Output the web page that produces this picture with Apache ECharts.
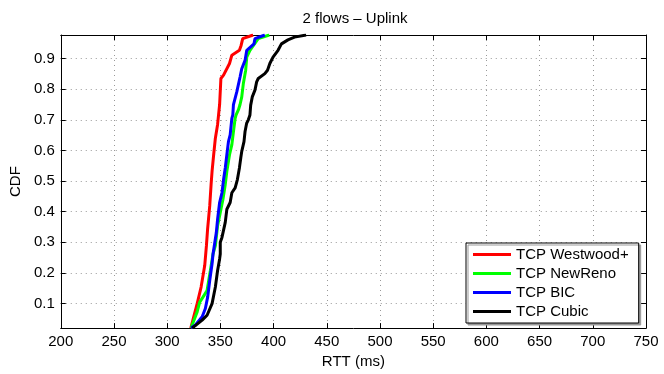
<!DOCTYPE html>
<html>
<head>
<meta charset="utf-8">
<script src="https://cdn.jsdelivr.net/npm/echarts@6/dist/echarts.min.js"></script>
<style>
	html, body { margin: 0; padding: 0; background: #fff; }
	#main { width: 664px; height: 374px; }
</style>
</head>
<body>
<div id="main"></div>
<script>
// RTT samples (ms) and matching CDF values
var westwoodRtt = [322.2, 328.2, 331.9, 335.3, 335.9, 336.9, 338, 340, 341.3, 342.2, 343.7, 345.3, 347.4, 349.3, 350.5, 353, 358.6, 360.8, 367.9, 369.5, 371, 380.8];
var westwoodCdf = [0.020, 0.100, 0.154, 0.224, 0.230, 0.289, 0.343, 0.419, 0.489, 0.532, 0.586, 0.640, 0.685, 0.750, 0.835, 0.846, 0.884, 0.911, 0.927, 0.943, 0.965, 0.977];

var newrenoRtt = [322.5, 323.5, 328.2, 330.6, 333.8, 337.5, 340.6, 343.1, 345.3, 347.4, 349.9, 352.4, 354.6, 356.1, 358.6, 360.8, 362.3, 363.9, 364.8, 367, 368.5, 370.1, 371.6, 373.8, 374.8, 377.8, 385.6, 396];
var newrenoCdf = [0.020, 0.030, 0.073, 0.105, 0.122, 0.143, 0.208, 0.262, 0.289, 0.354, 0.397, 0.440, 0.489, 0.532, 0.586, 0.619, 0.662, 0.705, 0.716, 0.733, 0.750, 0.775, 0.819, 0.862, 0.905, 0.927, 0.965, 0.977];

var bicRtt = [322.5, 326.6, 332.9, 335.9, 338.1, 340, 342.2, 343.1, 344.3, 346.2, 347.4, 349.3, 351.5, 353, 354.6, 356.1, 357.6, 359.2, 360.8, 361.7, 362.3, 365.5, 368.5, 370.1, 373.2, 374.8, 381.6, 382.5, 391.8];
var bicCdf = [0.020, 0.030, 0.057, 0.084, 0.122, 0.175, 0.230, 0.262, 0.289, 0.332, 0.376, 0.430, 0.462, 0.505, 0.543, 0.586, 0.629, 0.651, 0.705, 0.716, 0.750, 0.792, 0.840, 0.867, 0.894, 0.927, 0.948, 0.965, 0.977];

var cubicRtt = [323.5, 325, 332.9, 337.5, 342.2, 345.3, 347.4, 349.3, 349.9, 349.9, 351.5, 353, 354.6, 356.1, 359.2, 360.8, 363.9, 366, 367.9, 369.2, 370.1, 372.2, 373.2, 374.7, 376.3, 377.8, 378.5, 380, 382.5, 384.1, 385.6, 391.8, 394.3, 396.5, 399.5, 404.2, 407.4, 413.5, 419.7, 430.6];
var cubicCdf = [0.020, 0.024, 0.046, 0.062, 0.100, 0.154, 0.208, 0.246, 0.262, 0.300, 0.316, 0.321, 0.365, 0.408, 0.430, 0.462, 0.478, 0.505, 0.543, 0.576, 0.597, 0.629, 0.662, 0.689, 0.700, 0.716, 0.748, 0.775, 0.797, 0.824, 0.835, 0.851, 0.862, 0.884, 0.905, 0.927, 0.948, 0.961, 0.970, 0.977];

var seriesNames = ['TCP Westwood+', 'TCP NewReno', 'TCP BIC', 'TCP Cubic'];
var seriesColors = ['#ff0000', '#00ff00', '#0000ff', '#000000'];

var FONT = 'Liberation Sans, Arial, Helvetica, sans-serif';

function pairs(xs, ys) {
	var out = [];
	for (var i = 0; i < xs.length; i++) {
		out.push([xs[i], ys[i]]);
	}
	return out;
}

var allData = [
	pairs(westwoodRtt, westwoodCdf),
	pairs(newrenoRtt, newrenoCdf),
	pairs(bicRtt, bicCdf),
	pairs(cubicRtt, cubicCdf)
];

var gridLine = { show: true, lineStyle: { color: '#999', width: 1, type: [1, 4] } };
var boxLine = { show: true, lineStyle: { color: '#000', width: 1 } };
var tickIn = { show: true, inside: true, length: 5, lineStyle: { color: '#000' } };

var chart = echarts.init(document.getElementById('main'));
var series = [];
for (var i = 0; i < allData.length; i++) {
	series.push({
		name: seriesNames[i],
		type: 'line',
		data: allData[i],
		showSymbol: false,
		symbol: 'none',
		animation: false,
		lineStyle: { color: seriesColors[i], width: 3 },
		itemStyle: { color: seriesColors[i] }
	});
}

var options = {
	animation: false,
	title: {
		text: '2 flows \u2013 Uplink',
		left: 350,
		textAlign: 'center',
		top: 6,
		textStyle: { fontFamily: FONT, fontSize: 15, fontWeight: 'normal', color: '#000' }
	},
	grid: {
		left: 54,
		right: 18,
		top: 35,
		bottom: 44.5,
		containLabel: false
	},
	legend: {
		orient: 'vertical',
		left: 466,
		top: 243,
		data: seriesNames,
		icon: 'rect',
		itemWidth: 38,
		itemHeight: 3,
		itemGap: 4,
		padding: [4, 10, 4, 7],
		backgroundColor: '#fff',
		borderColor: '#000',
		borderWidth: 1,
		shadowColor: '#999',
		shadowOffsetX: 2,
		shadowOffsetY: 2,
		shadowBlur: 0,
		textStyle: { fontFamily: FONT, fontSize: 15, color: '#000' }
	},
	xAxis: [{
		type: 'value',
		min: 200,
		max: 750,
		interval: 50,
		position: 'bottom',
		name: 'RTT (ms)',
		nameLocation: 'middle',
		nameGap: 23,
		nameTextStyle: { fontFamily: FONT, fontSize: 15, color: '#000' },
		axisLine: boxLine,
		axisTick: tickIn,
		axisLabel: { fontFamily: FONT, fontSize: 15, color: '#000', margin: 6 },
		splitLine: gridLine
	}, {
		type: 'value',
		min: 200,
		max: 750,
		interval: 50,
		position: 'top',
		axisLine: boxLine,
		axisTick: tickIn,
		axisLabel: { show: false },
		splitLine: { show: false }
	}],
	yAxis: [{
		type: 'value',
		min: 0.02,
		max: 0.977,
		splitNumber: 10,
		minInterval: 0.1,
		maxInterval: 0.1,
		position: 'left',
		name: 'CDF',
		nameLocation: 'middle',
		nameGap: 34,
		nameTextStyle: { fontFamily: FONT, fontSize: 15, color: '#000' },
		axisLine: boxLine,
		axisTick: tickIn,
		axisLabel: {
			fontFamily: FONT, fontSize: 15, color: '#000', margin: 6,
			showMinLabel: false, showMaxLabel: false,
			formatter: function (v) { return v.toFixed(1); }
		},
		splitLine: gridLine
	}, {
		type: 'value',
		min: 0.02,
		max: 0.977,
		splitNumber: 10,
		minInterval: 0.1,
		maxInterval: 0.1,
		position: 'right',
		axisLine: boxLine,
		axisTick: tickIn,
		axisLabel: { show: false },
		splitLine: { show: false }
	}],
	series: series
};
chart.setOption(options);
</script>
</body>
</html>
